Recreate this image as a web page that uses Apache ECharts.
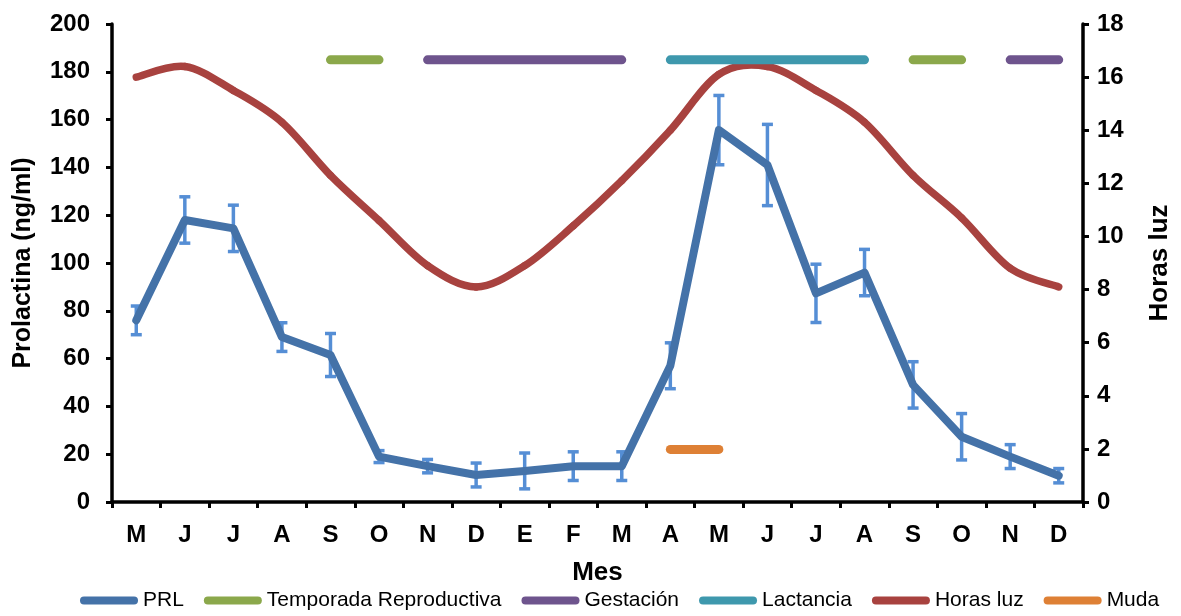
<!DOCTYPE html>
<html>
<head>
<meta charset="utf-8">
<script src="https://cdn.jsdelivr.net/npm/echarts@6/dist/echarts.min.js"></script>
<style>
  html, body { margin: 0; padding: 0; background: #fff; }
  #chart { width: 1181px; height: 616px; }
</style>
</head>
<body>
<div id="chart"></div>
<script>
const meses = ['M', 'J', 'J', 'A', 'S', 'O', 'N', 'D', 'E', 'F', 'M', 'A', 'M', 'J', 'J', 'A', 'S', 'O', 'N', 'D']

// prolactina (ng/ml) y su error
const prl = [76, 118, 114.5, 69, 61.5, 19, 15, 11.3, 13, 15, 15, 57, 155.6, 141, 87.3, 96, 49, 27.3, 19, 11]
const prlErr = [6, 9.7, 9.7, 6, 9, 2.5, 2.8, 5, 7.5, 6, 6, 9.6, 14.5, 17, 12.2, 9.7, 9.7, 9.7, 5, 3]

// horas luz (eje derecho)
const horasLuz = [16.0, 16.4, 15.5, 14.3, 12.3, 10.6, 8.9, 8.1, 8.9, 10.4, 12.1, 14.0, 16.1, 16.4, 15.5, 14.3, 12.3, 10.7, 8.8, 8.1]

// periodos (marcados a nivel 185 y 22 del eje izquierdo)
const temporada = [null, null, null, null, 185, 185, null, null, null, null, null, null, null, null, null, null, 185, 185, null, null]
const gestacion = [null, null, null, null, null, null, 185, 185, 185, 185, 185, null, null, null, null, null, null, null, 185, 185]
const lactancia = [null, null, null, null, null, null, null, null, null, null, null, 185, 185, 185, 185, 185, null, null, null, null]
const muda = [null, null, null, null, null, null, null, null, null, null, null, 22, 22, null, null, null, null, null, null, null]

const font = '"Liberation Sans", Arial, sans-serif'
const errData = prl.map((v, i) => [i, v - prlErr[i], v + prlErr[i]])
const luzData = horasLuz.map((v, i) => [i, v])

const periodo = (name, data, color) => ({
  name,
  type: 'line',
  data,
  color,
  symbol: 'none',
  connectNulls: false,
  lineStyle: { width: 9, color, cap: 'round' },
  z: 3
})

// curva suavizada tipo Excel (Catmull-Rom -> Bezier), tramo por tramo
const renderLuz = (params, api) => {
  const i = params.dataIndex
  const n = horasLuz.length
  if (i >= n - 1) return null
  const p = (j) => {
    const k = Math.max(0, Math.min(n - 1, j))
    return api.coord([k, horasLuz[k]])
  }
  const p0 = p(i - 1), p1 = p(i), p2 = p(i + 1), p3 = p(i + 2)
  return {
    type: 'bezierCurve',
    shape: {
      x1: p1[0], y1: p1[1],
      cpx1: p1[0] + (p2[0] - p0[0]) / 6, cpy1: p1[1] + (p2[1] - p0[1]) / 6,
      cpx2: p2[0] - (p3[0] - p1[0]) / 6, cpy2: p2[1] - (p3[1] - p1[1]) / 6,
      x2: p2[0], y2: p2[1]
    },
    style: { stroke: '#A8423F', lineWidth: 7.5, lineCap: 'round', fill: null }
  }
}

const chart = echarts.init(document.getElementById('chart'))
chart.setOption({
  animation: false,
  grid: { left: 112, right: 90, top: 24, bottom: 114 },
  legend: {
    left: 75,
    bottom: 0,
    itemWidth: 58,
    itemHeight: 8,
    itemGap: 20,
    icon: 'path://M4,0 L54,0 A4,4 0 0 1 54,8 L4,8 A4,4 0 0 1 4,0 Z',
    textStyle: { fontFamily: font, fontSize: 21, color: '#000' },
    data: ['PRL', 'Temporada Reproductiva', 'Gestación', 'Lactancia', 'Horas luz', 'Muda']
  },
  xAxis: {
    type: 'category',
    data: meses,
    name: 'Mes',
    nameLocation: 'middle',
    nameGap: 58,
    nameTextStyle: { fontFamily: font, fontSize: 26, fontWeight: 'bold', color: '#000' },
    axisLine: { lineStyle: { color: '#000', width: 3.5 } },
    axisTick: { show: true, length: 6, lineStyle: { color: '#000', width: 3 } },
    axisLabel: { fontFamily: font, fontSize: 24, fontWeight: 'bold', color: '#000', margin: 21 },
    splitLine: { show: false }
  },
  yAxis: [
    {
      type: 'value',
      min: 0,
      max: 200,
      interval: 20,
      name: 'Prolactina (ng/ml)',
      nameLocation: 'middle',
      nameGap: 76,
      nameTextStyle: { fontFamily: font, fontSize: 25, fontWeight: 'bold', color: '#000' },
      axisLine: { show: true, lineStyle: { color: '#000', width: 3.5 } },
      axisTick: { show: true, length: 6, lineStyle: { color: '#000', width: 3 } },
      axisLabel: { fontFamily: font, fontSize: 24, fontWeight: 'bold', color: '#000', margin: 22 },
      splitLine: { show: false }
    },
    {
      type: 'value',
      min: 0,
      max: 18,
      interval: 2,
      name: 'Horas luz',
      nameLocation: 'middle',
      nameGap: 64,
      nameTextStyle: { fontFamily: font, fontSize: 26, fontWeight: 'bold', color: '#000' },
      axisLine: { show: true, lineStyle: { color: '#000', width: 3.5 } },
      axisTick: { show: true, length: 6, lineStyle: { color: '#000', width: 3 } },
      axisLabel: { fontFamily: font, fontSize: 24, fontWeight: 'bold', color: '#000', margin: 14 },
      splitLine: { show: false }
    }
  ],
  series: [
    {
      name: 'err',
      type: 'custom',
      data: errData,
      z: 2,
      renderItem: (params, api) => {
        const i = api.value(0)
        const lo = api.coord([i, api.value(1)])
        const hi = api.coord([i, api.value(2)])
        const s = { stroke: '#558ED5', lineWidth: 3.5 }
        return {
          type: 'group',
          children: [
            { type: 'line', shape: { x1: lo[0], y1: lo[1], x2: hi[0], y2: hi[1] }, style: s },
            { type: 'line', shape: { x1: lo[0] - 5.5, y1: lo[1], x2: lo[0] + 5.5, y2: lo[1] }, style: s },
            { type: 'line', shape: { x1: hi[0] - 5.5, y1: hi[1], x2: hi[0] + 5.5, y2: hi[1] }, style: s }
          ]
        }
      }
    },
    {
      name: 'PRL',
      type: 'line',
      data: prl,
      color: '#4472A8',
      symbol: 'none',
      lineStyle: { width: 8, color: '#4472A8', cap: 'round', join: 'round' },
      z: 4
    },
    periodo('Temporada Reproductiva', temporada, '#8BA84B'),
    periodo('Gestación', gestacion, '#6E548D'),
    periodo('Lactancia', lactancia, '#3E98AD'),
    {
      name: 'Horas luz',
      type: 'custom',
      yAxisIndex: 1,
      data: luzData,
      encode: { x: 0, y: 1 },
      itemStyle: { color: '#A8423F' },
      renderItem: renderLuz,
      z: 3
    },
    periodo('Muda', muda, '#DE8035')
  ]
})
</script>
</body>
</html>
